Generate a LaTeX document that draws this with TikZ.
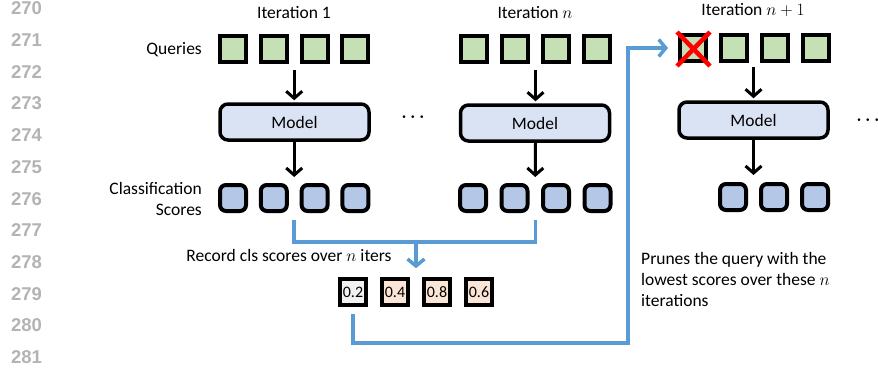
\documentclass[tikz,border=0pt]{standalone}
\usepackage{fontspec}
\setmainfont{Carlito}
\newfontfamily\numfont{Liberation Sans}
\usetikzlibrary{arrows.meta,calc}
\definecolor{qgreen}{HTML}{C5E0B4}
\definecolor{mblue}{HTML}{DAE3F3}
\definecolor{cblue}{HTML}{B4C7E7}
\definecolor{sgray}{HTML}{F2F2F2}
\definecolor{speach}{HTML}{FBE5D6}
\definecolor{lblue}{HTML}{5B9BD5}
\definecolor{lnum}{HTML}{B3B3B3}
\tikzset{
  qbox/.style={draw=black, line width=4pt, fill=qgreen, minimum size=26pt, inner sep=0pt},
  cbox/.style={draw=black, line width=4pt, fill=cblue, minimum size=26pt, inner sep=0pt, rounded corners=6pt},
  model/.style={draw=black, line width=3.5pt, fill=mblue, minimum width=149pt, minimum height=36pt, rounded corners=8pt, inner sep=0pt, font=\fontsize{17.5}{20}\selectfont},
  sbox/.style={draw=black, line width=3.5pt, minimum size=26pt, inner sep=0pt, font=\fontsize{16}{18}\selectfont},
  txt/.style={font=\fontsize{17.5}{21}\selectfont, inner sep=0pt},
  blk/.style={line width=3pt, -{Straight Barb[length=7pt,width=16pt]}},
  bl/.style={draw=lblue, line width=3.5pt},
  blarr/.style={draw=lblue, line width=3.5pt, -{Straight Barb[length=7pt,width=17pt]}},
  lno/.style={font=\numfont\bfseries\fontsize{18.5}{20}\selectfont, text=lnum, inner sep=0pt},
  dots/.style={font=\boldmath\fontsize{18}{20}\selectfont, inner sep=0pt}
}
\begin{document}
\begin{tikzpicture}[x=1pt,y=-1pt]
\useasboundingbox (0,0) rectangle (878,375);
\clip (0,0) rectangle (878,375);
% line numbers
\foreach \i in {0,...,11}{
  \pgfmathtruncatemacro{\num}{270+\i}
  \node[lno] (ln\i) at (26.5, 8.5+31.7*\i) {\num};
}
% titles
\node[txt] (t1) at (294,13) {Iteration 1};
\node[txt] (t2) at (535,13) {Iteration $n$};
\node[txt] (t3) at (753,10) {Iteration $n+1$};
% labels
\node[txt, anchor=east] (lq) at (202,50) {Queries};
\node[txt, anchor=east, align=right] (lc) at (202,199) {Classification\\Scores};
% iteration 1
\foreach \k in {1,...,4}{
  \node[qbox] (qa\k) at (233+40.8*\k-40.8,49) {};
  \node[cbox] (ca\k) at (233+40.8*\k-40.8,198) {};
}
\node[model] (ma) at (294.5,122) {Model};
% iteration n
\foreach \k in {1,...,4}{
  \node[qbox] (qb\k) at (474+41*\k-41,49) {};
  \node[cbox] (cb\k) at (473+41.5*\k-41.5,198) {};
}
\node[model] (mb) at (535,123) {Model};
% iteration n+1
\foreach \k in {1,...,4}{
  \node[qbox] (qc\k) at (693+41*\k-41,48) {};
}
\foreach \k in {2,3,4}{
  \node[cbox] (cc\k) at (733+41*\k-82,197) {};
}
\node[model] (mc) at (753.5,120) {Model};
% dots
\node[dots] (d1) at (413,117) {$\cdots$};
\node[dots] (d2) at (868,120) {$\cdots$};
% black arrows
\coordinate (qa) at ($(qa2.south)!0.5!(qa3.south)$);
\coordinate (qb) at ($(qb2.south)!0.5!(qb3.south)$);
\coordinate (qc) at ($(qc2.south)!0.5!(qc3.south)$);
\coordinate (ca) at ($(ca2.north)!0.5!(ca3.north)$);
\coordinate (cb) at ($(cb2.north)!0.5!(cb3.north)$);
\coordinate (cc) at ($(cc2.north)!0.5!(cc3.north)$);
\draw[blk] ([yshift=-6pt]qa) -- ([yshift=2pt]ma.north -| qa);
\draw[blk] (ma.south -| qa) -- ([yshift=6pt]ca);
\draw[blk] ([yshift=-6pt]qb) -- ([yshift=2pt]mb.north -| qb);
\draw[blk] (mb.south -| qb) -- ([yshift=6pt]cb);
\draw[blk] ([yshift=-4pt]qc1.south -| mc.north) -- ([yshift=2pt]mc.north);
\draw[blk] (mc.south) -- ([yshift=7pt]mc.south |- cc);
% red cross
\draw[red, line width=4.5pt] (677,32) -- (710,66) (710,32) -- (677,66);
% score boxes
\node[sbox, fill=sgray] (s1) at (353,292) {0.2};
\node[sbox, fill=speach] (s2) at (395,292) {0.4};
\node[sbox, fill=speach] (s3) at (437,292) {0.8};
\node[sbox, fill=speach] (s4) at (479,292) {0.6};
% blue connectors
\coordinate (ba) at ($(ca2.south)!0.5!(ca3.south)$);
\coordinate (bb) at ($(cb2.south)!0.5!(cb3.south)$);
\coordinate (hrow) at (0,242);
\draw[bl] ([yshift=-7pt]ba) -- (ba |- hrow) -- (bb |- hrow) -- ([yshift=-7pt]bb);
\coordinate (sm) at ($(s2.north)!0.5!(s3.north)$);
\draw[blarr] (sm |- hrow) -- ([yshift=9pt]sm);
\coordinate (vx) at (628,343);
\draw[blarr] ([yshift=-7pt]s1.south) -- (s1.south |- vx) -- (vx) -- (vx |- qc1) -- ([xshift=-10pt]qc1.west);
% texts
\node[txt] (rec) at (289,255) {Record cls scores over $n$ iters};
\node[txt, anchor=north west, align=left] (pr) at (641,252) {Prunes the query with the\\lowest scores over these $n$\\iterations};
\end{tikzpicture}
\end{document}
